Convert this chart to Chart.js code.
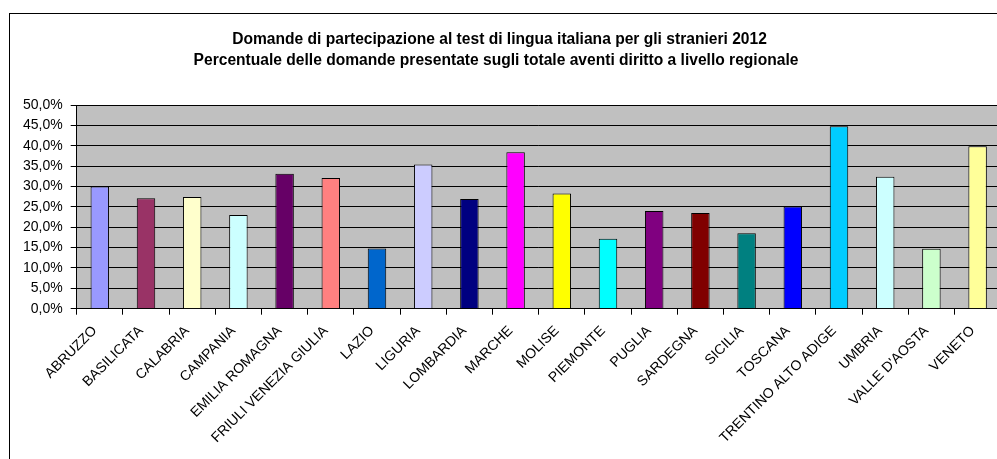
<!DOCTYPE html>
<html>
<head>
<meta charset="utf-8">
<script src="https://cdn.jsdelivr.net/npm/chart.js@4/dist/chart.umd.min.js"></script>
<style>
  html, body { margin: 0; padding: 0; background: #fff; overflow: hidden; }
  #frame {
    position: absolute; left: 9px; top: 13px;
    width: 1010px; height: 460px;
    border-left: 1px solid #000; border-top: 1px solid #000;
  }
  #box { position: absolute; left: 0; top: 0; width: 1000px; height: 450px; }
</style>
</head>
<body>
<div id="frame"><div id="box"><canvas id="chart1"></canvas></div></div>
<script>
const regioni = ['ABRUZZO', 'BASILICATA', 'CALABRIA', 'CAMPANIA', 'EMILIA ROMAGNA', 'FRIULI VENEZIA GIULIA',
  'LAZIO', 'LIGURIA', 'LOMBARDIA', 'MARCHE', 'MOLISE', 'PIEMONTE', 'PUGLIA', 'SARDEGNA', 'SICILIA',
  'TOSCANA', 'TRENTINO ALTO ADIGE', 'UMBRIA', "VALLE D'AOSTA", 'VENETO'];
const percentuali = [30.0, 27.1, 27.4, 23.0, 33.1, 32.1, 14.8, 35.4, 26.9, 38.4,
  28.3, 17.2, 24.0, 23.5, 18.5, 25.1, 44.8, 32.4, 14.7, 39.9];
const colori = ['#9999FF', '#993366', '#FFFFCC', '#CCFFFF', '#660066', '#FF8080', '#0066CC', '#CCCCFF',
  '#000080', '#FF00FF', '#FFFF00', '#00FFFF', '#800080', '#800000', '#008080', '#0000FF',
  '#00CCFF', '#CCFFFF', '#CCFFCC', '#FFFF99'];
const titolo = ['Domande di partecipazione al test di lingua italiana per gli stranieri 2012',
  'Percentuale delle domande presentate sugli totale aventi diritto a livello regionale'];

// sfondo grigio dell'area del grafico + titolo
const sfondo = {
  id: 'sfondo',
  beforeDraw(chart) {
    const a = chart.chartArea;
    const ctx = chart.ctx;
    ctx.save();
    ctx.fillStyle = '#C0C0C0';
    ctx.fillRect(a.left, a.top, a.right - a.left, a.bottom - a.top);
    ctx.restore();
  },
  afterDraw(chart) {
    const ctx = chart.ctx;
    ctx.save();
    ctx.fillStyle = '#000';
    ctx.font = 'bold 15.6px Arial, "Liberation Sans", sans-serif';
    ctx.textAlign = 'center';
    ctx.textBaseline = 'middle';
    ctx.fillText(titolo[0], 489.5, 26);
    ctx.fillText(titolo[1], 486, 47);
    ctx.restore();
  }
};

const chart1 = document.getElementById('chart1');

new Chart(chart1, {
  type: 'bar',
  data: {
    labels: regioni,
    datasets: [{
      data: percentuali,
      backgroundColor: colori,
      borderColor: '#000',
      borderWidth: 1,
      barPercentage: 0.4,
      categoryPercentage: 1
    }]
  },
  options: {
    responsive: true,
    maintainAspectRatio: false,
    animation: false,
    layout: { padding: { top: 91, right: 9.3, left: 0, bottom: 0 } },
    plugins: {
      legend: { display: false },
      title: { display: false },
      tooltip: { enabled: false }
    },
    scales: {
      x: {
        grid: { drawOnChartArea: false, color: '#000', tickLength: 6 },
        border: { color: '#000' },
        ticks: {
          color: '#000',
          font: { family: 'Arial, "Liberation Sans", sans-serif', size: 14 },
          minRotation: 45, maxRotation: 45,
          autoSkip: false, padding: 8, labelOffset: -5
        },
        afterFit(scale) { scale.height = 155.3; }
      },
      y: {
        min: 0, max: 50,
        grid: { color: '#000', tickLength: 6 },
        border: { color: '#000' },
        ticks: {
          stepSize: 5,
          color: '#000',
          padding: 8,
          font: { family: 'Arial, "Liberation Sans", sans-serif', size: 14 },
          callback: v => v.toFixed(1).replace('.', ',') + '%'
        },
        afterFit(scale) { scale.width = 66.7; }
      }
    }
  },
  plugins: [sfondo]
});
</script>
</body>
</html>
